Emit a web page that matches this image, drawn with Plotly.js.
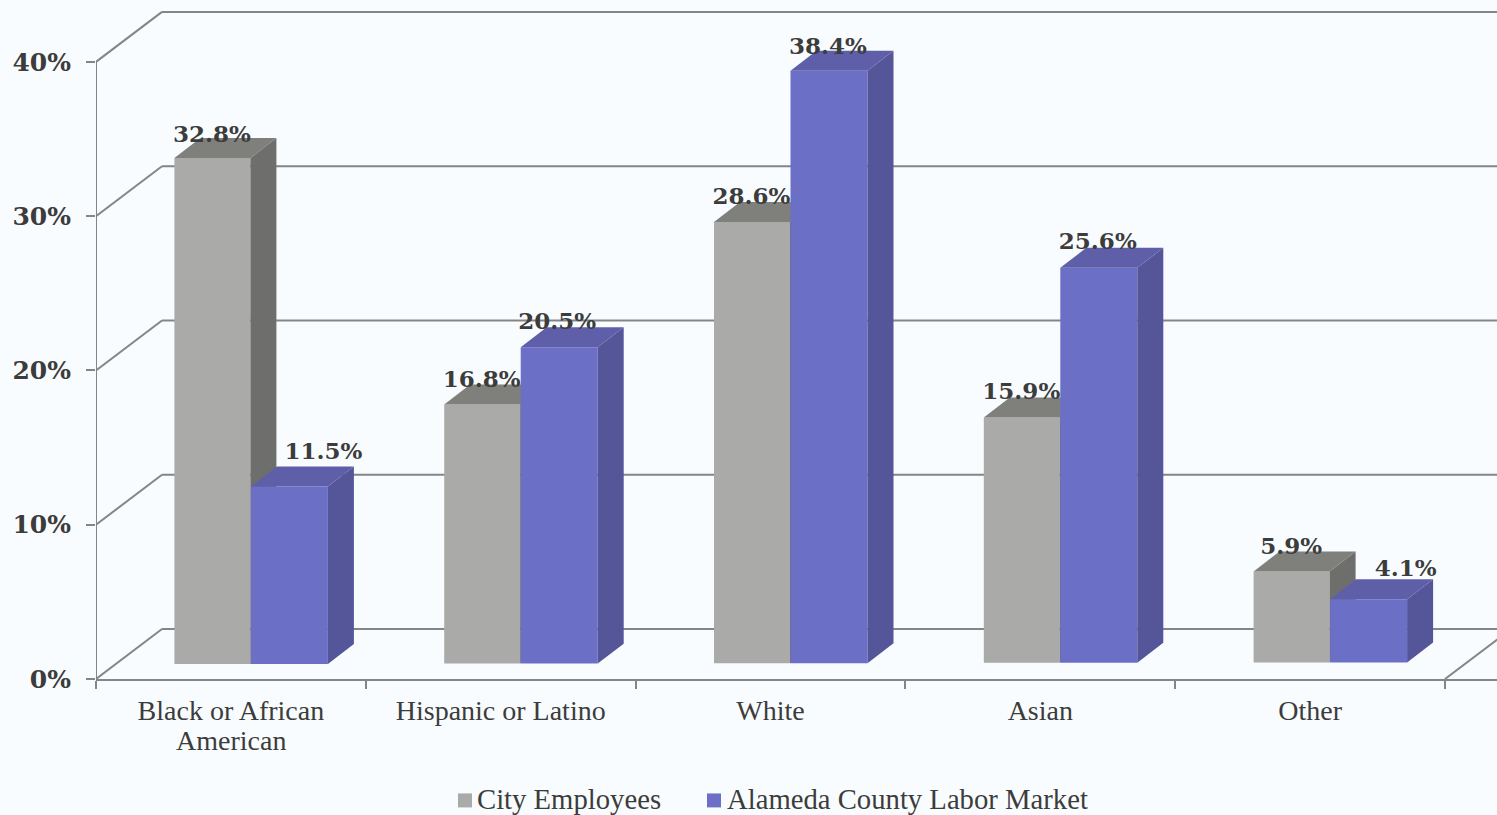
<!DOCTYPE html>
<html>
<head>
<meta charset="utf-8">
<script src="https://cdn.plot.ly/plotly-3.0.1.min.js"></script>
<style>html,body{margin:0;padding:0;background:#f9fcfe;overflow:hidden}</style>
</head>
<body>
<div id="chart" style="width:1497px;height:815px"></div>
<script>
const categories = ['Black or African<br>American', 'Hispanic or Latino', 'White', 'Asian', 'Other'];
const cityEmployees = [32.8, 16.8, 28.6, 15.9, 5.9];
const laborMarket = [11.5, 20.5, 38.4, 25.6, 4.1];
const cityName = 'City Employees';
const laborName = 'Alameda County Labor Market';
const yTicks = [0, 10, 20, 30, 40];

// scale of the picture
const W = 1497, H = 815, L = 96, BOTTOM = 679.5;
const PX_X = 269.8, PX_Y = 15.44;
const ux = p => p / PX_X, uy = p => p / PX_Y;
const DEPTH_X = ux(26), DEPTH_Y = uy(20);
const WALL_X = ux(66), WALL_Y = uy(50);
const xRange = [-0.5, -0.5 + (W - L) / PX_X];
const yRange = [0, BOTTOM / PX_Y];
const xs = categories.map((_, i) => i);
const base = xs.map(i => uy(15) + i * uy(0.4));

const serif = 'Liberation Serif, serif';
const numFont = 'DejaVu Serif, serif';
const ink = '#3c3c3c', axisCol = '#858585';

function series(name, values, center, barW, front, side, top, xa, ya) {
  const cx = xs.map(i => i + ux(center));
  const hw = ux(barW) / 2;
  const sx = [], sy = [], tx = [], ty = [];
  values.forEach((v, i) => {
    const r = cx[i] + hw, l = cx[i] - hw, b = base[i], t = b + v;
    sx.push(r, r + DEPTH_X, r + DEPTH_X, r, r, null);
    sy.push(b, b + DEPTH_Y, t + DEPTH_Y, t, b, null);
    tx.push(l, l + DEPTH_X, r + DEPTH_X, r, l, null);
    ty.push(t, t + DEPTH_Y, t + DEPTH_Y, t, t, null);
  });
  return [
    {type: 'bar', name, x: cx, y: values, base, width: ux(barW),
     marker: {color: front, line: {width: 0}}, xaxis: xa, yaxis: ya, hoverinfo: 'y+name'},
    {type: 'scatter', mode: 'lines', x: sx, y: sy, fill: 'toself', fillcolor: side,
     line: {width: 0, color: side}, xaxis: xa, yaxis: ya, showlegend: false, hoverinfo: 'skip'},
    {type: 'scatter', mode: 'lines', x: tx, y: ty, fill: 'toself', fillcolor: top,
     line: {width: 0, color: top}, xaxis: xa, yaxis: ya, showlegend: false, hoverinfo: 'skip'}
  ];
}

function labels(values, center, nudgeX, nudgeY) {
  return {
    type: 'scatter', mode: 'text', xaxis: 'x2', yaxis: 'y2', showlegend: false, hoverinfo: 'skip',
    x: xs.map(i => i + ux(center + nudgeX[i])),
    y: values.map((v, i) => base[i] + v + DEPTH_Y + uy(nudgeY[i])),
    text: values.map(v => v.toFixed(1) + '%'),
    textposition: 'middle center',
    textfont: {family: numFont, size: 23, color: ink, weight: 700}
  };
}

const traces = [
  ...series(cityName, cityEmployees, -18.5, 76, '#aaaaa9', '#6e6e6c', '#7f7f7b', 'x', 'y'),
  ...series(laborName, laborMarket, 58.5, 77, '#6b70c6', '#55569a', '#5f5fa9', 'x2', 'y2'),
  labels(cityEmployees, -19, [0, 0, 0, 0, 0], [2, 3, 4, 4, 3]),
  labels(laborMarket, 58.5, [34, -2, -1, -1, 37], [13, 4, 3, 5, 9])
];

const gridLine = {color: axisCol, width: 2};
const shapes = [];
yTicks.forEach(v => {
  shapes.push({type: 'line', layer: 'below', xref: 'x', yref: 'y', line: gridLine,
    x0: xRange[0], y0: v, x1: xRange[0] + WALL_X, y1: v + WALL_Y});
  shapes.push({type: 'line', layer: 'below', xref: 'x', yref: 'y', line: gridLine,
    x0: xRange[0] + WALL_X, y0: v + WALL_Y, x1: xRange[1], y1: v + WALL_Y});
});
shapes.push({type: 'line', layer: 'below', xref: 'x', yref: 'y', line: gridLine,
  x0: 4.5, y0: 0, x1: 4.5 + WALL_X, y1: WALL_Y});
shapes.push({type: 'line', layer: 'below', xref: 'x', yref: 'y', line: gridLine,
  x0: xRange[0], y0: 0, x1: xRange[0], y1: yTicks[yTicks.length - 1]});

const annotations = [];

// second line of a wrapped category label
const firstLines = categories.map(c => c.split('<br>')[0]);
categories.forEach((c, i) => {
  const rest = c.split('<br>')[1];
  if (rest) annotations.push({text: rest, showarrow: false, xref: 'x', yref: 'paper',
    xanchor: 'center', yanchor: 'middle', x: i, y: (BOTTOM - 741) / BOTTOM,
    font: {family: serif, size: 28, color: ink}});
});

// legend key
const keys = [
  {name: cityName, color: '#aaaaa9', sx: 458, tx: 477},
  {name: laborName, color: '#6b70c6', sx: 707, tx: 727}
];
keys.forEach(k => {
  shapes.push({type: 'rect', xref: 'paper', yref: 'paper', layer: 'above', line: {width: 0},
    fillcolor: k.color,
    x0: (k.sx - L) / (W - L), x1: (k.sx + 14 - L) / (W - L),
    y0: (BOTTOM - 808) / BOTTOM, y1: (BOTTOM - 794) / BOTTOM});
  annotations.push({text: k.name, showarrow: false, xref: 'paper', yref: 'paper',
    xanchor: 'left', yanchor: 'middle',
    x: (k.tx - L) / (W - L), y: (BOTTOM - 800) / BOTTOM,
    xshift: -2, font: {family: serif, size: 28.7, color: ink}});
});

const layout = {
  width: W, height: H, showlegend: false, barmode: 'overlay',
  margin: {l: L, r: 0, t: 0, b: H - BOTTOM, pad: 0},
  paper_bgcolor: '#f9fcfe', plot_bgcolor: 'rgba(0,0,0,0)',
  shapes, annotations,
  xaxis: {
    range: xRange, showgrid: false, zeroline: false, fixedrange: true,
    showline: true, linecolor: axisCol, linewidth: 2,
    tickmode: 'array', tickvals: xs, ticktext: firstLines, ticks: '', ticklabelstandoff: 5,
    tickfont: {family: serif, size: 28, color: ink},
    minor: {tickmode: 'array', tickvals: [-0.5, 0.5, 1.5, 2.5, 3.5, 4.5], ticks: 'outside',
            ticklen: 8, tickwidth: 2, tickcolor: axisCol, showgrid: false}
  },
  yaxis: {
    range: yRange, showgrid: false, zeroline: false, fixedrange: true,
    showline: false,
    tickmode: 'array', tickvals: yTicks, ticktext: yTicks.map(v => v + '%'),
    ticks: 'outside', ticklen: 9,
    tickwidth: 2, tickcolor: axisCol, ticklabelstandoff: 10,
    tickfont: {family: numFont, size: 25, color: ink, weight: 700}
  },
  xaxis2: {range: xRange, overlaying: 'x', visible: false, fixedrange: true},
  yaxis2: {range: yRange, overlaying: 'y', visible: false, fixedrange: true}
};

Plotly.newPlot('chart', traces, layout, {displayModeBar: false, staticPlot: true});
</script>
</body>
</html>
